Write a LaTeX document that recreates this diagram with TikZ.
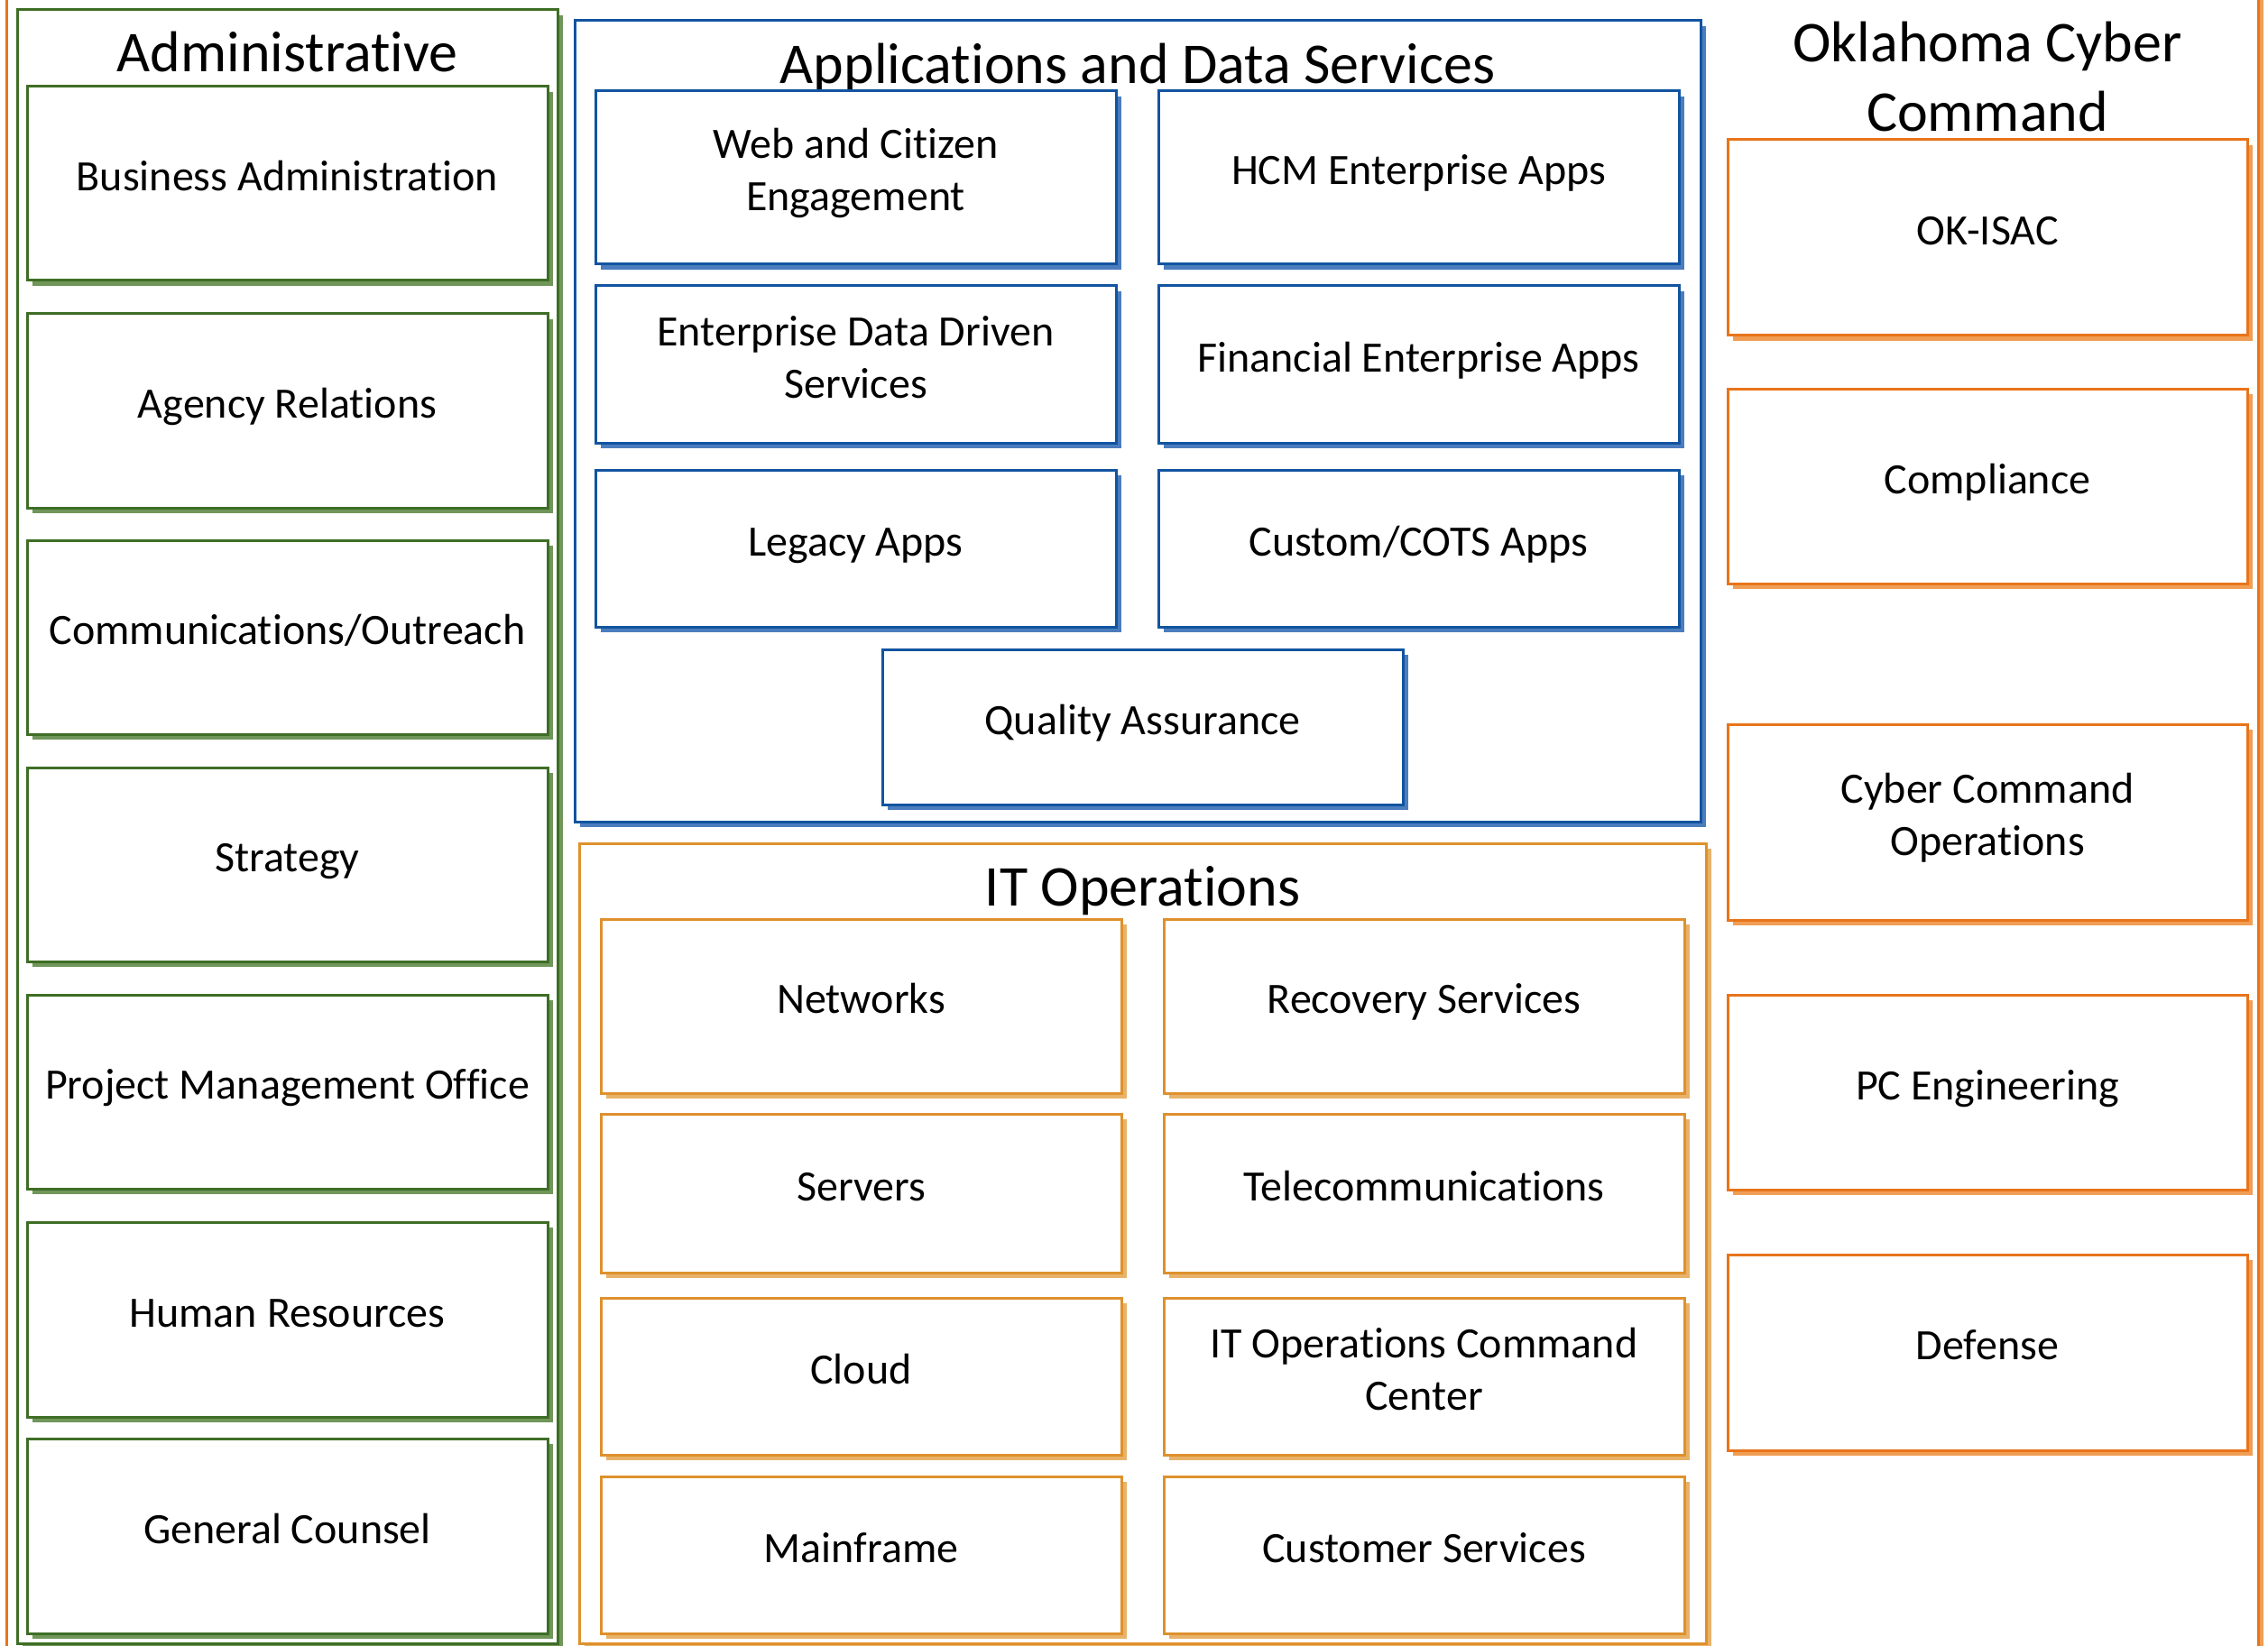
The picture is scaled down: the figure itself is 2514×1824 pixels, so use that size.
\documentclass[tikz,border=0pt]{standalone}
\usepackage{fontspec}
\setmainfont{Carlito}[Ligatures=NoCommon]
\usetikzlibrary{shadows,fit}
\definecolor{grn}{RGB}{62,110,38}
\definecolor{grnsh}{RGB}{112,150,90}
\definecolor{blu}{RGB}{18,84,160}
\definecolor{blush}{RGB}{75,125,190}
\definecolor{itor}{RGB}{222,145,45}
\definecolor{itorsh}{RGB}{232,178,105}
\definecolor{cyor}{RGB}{232,116,26}
\definecolor{cyorsh}{RGB}{240,158,85}
\tikzset{
  unit/.style={draw=#1, line width=1.5pt, fill=white, inner sep=0pt, outer sep=0pt,
    drop shadow={shadow xshift=3pt, shadow yshift=-3pt, fill=#1sh, opacity=1}},
  lbl/.style={inner sep=0pt, align=center, font=\fontsize{24}{29}\selectfont},
  ttl/.style={inner sep=0pt, align=center, font=\fontsize{32}{38.5}\selectfont},
}
\newcommand\ubox[7]{%
  \node[unit=#2, fit={(#3,#4) (#5,#6)}] (#1) {};
  \node[lbl] (#1T) at ([yshift=1.8pt]#1.center) {#7};}
\begin{document}
\begin{tikzpicture}[x=0.5pt,y=-0.5pt]
\useasboundingbox (0,0) rectangle (2514,1824);
\clip (0,0) rectangle (2514,1824);
\fill[white] (0,0) rectangle (2514,1824);
% outer: Oklahoma Cyber Command
\node[unit=cyor, fit={(7,-40) (2503,1870)}] (cyber) {};
\node[ttl, anchor=north] (cyberT) at (2203,14) {\strut Oklahoma Cyber\\\strut Command};
% Administrative
\node[unit=grn, fit={(19,11) (618,1822)}] (admin) {};
\node[ttl, anchor=base] (adminT) at (318.5,80) {Administrative};
\ubox{ba}{grn}{30}{96}{607}{311}{\strut Business Administration}
\ubox{ar}{grn}{30}{348}{607}{563}{\strut Agency Relations}
\ubox{co}{grn}{30}{599}{607}{814}{\strut Communications/Outreach}
\ubox{st}{grn}{30}{851}{607}{1066}{\strut Strategy}
\ubox{pmo}{grn}{30}{1103}{607}{1318}{\strut Project Management Office}
\ubox{hr}{grn}{30}{1355}{607}{1571}{\strut Human Resources}
\ubox{gc}{grn}{30}{1595}{607}{1811}{\strut General Counsel}
% Applications and Data Services
\node[unit=blu, fit={(637,23) (1885,911)}] (apps) {};
\node[ttl, anchor=base] (appsT) at (1261,93) {Applications and Data Services};
\ubox{web}{blu}{660}{101}{1237}{293}{\strut Web and Citizen\\\strut Engagement}
\ubox{hcm}{blu}{1284}{101}{1861}{293}{\strut HCM Enterprise Apps}
\ubox{edd}{blu}{660}{317}{1237}{491}{\strut Enterprise Data Driven\\\strut Services}
\ubox{fin}{blu}{1284}{317}{1861}{491}{\strut Financial Enterprise Apps}
\ubox{leg}{blu}{660}{521}{1237}{695}{\strut Legacy Apps}
\ubox{cots}{blu}{1284}{521}{1861}{695}{\strut Custom/COTS Apps}
\ubox{qa}{blu}{978}{720}{1555}{892}{\strut Quality Assurance}
% IT Operations
\node[unit=itor, fit={(642,935) (1891,1822)}] (itops) {};
\node[ttl, anchor=base] (itopsT) at (1266.5,1004) {IT Operations};
\ubox{net}{itor}{666}{1019}{1243}{1212}{\strut Networks}
\ubox{rec}{itor}{1290}{1019}{1867}{1212}{\strut Recovery Services}
\ubox{srv}{itor}{666}{1235}{1243}{1411}{\strut Servers}
\ubox{tel}{itor}{1290}{1235}{1867}{1411}{\strut Telecommunications}
\ubox{cld}{itor}{666}{1439}{1243}{1613}{\strut Cloud}
\ubox{occ}{itor}{1290}{1439}{1867}{1613}{\strut IT Operations Command\\\strut Center}
\ubox{mf}{itor}{666}{1637}{1243}{1811}{\strut Mainframe}
\ubox{cs}{itor}{1290}{1637}{1867}{1811}{\strut Customer Services}
% Cyber units
\ubox{isac}{cyor}{1915}{155}{2491}{372}{\strut OK-ISAC}
\ubox{comp}{cyor}{1915}{431}{2491}{647}{\strut Compliance}
\ubox{cco}{cyor}{1915}{803}{2491}{1020}{\strut Cyber Command\\\strut Operations}
\ubox{pce}{cyor}{1915}{1103}{2491}{1319}{\strut PC Engineering}
\ubox{def}{cyor}{1915}{1391}{2491}{1608}{\strut Defense}
\end{tikzpicture}
\end{document}
